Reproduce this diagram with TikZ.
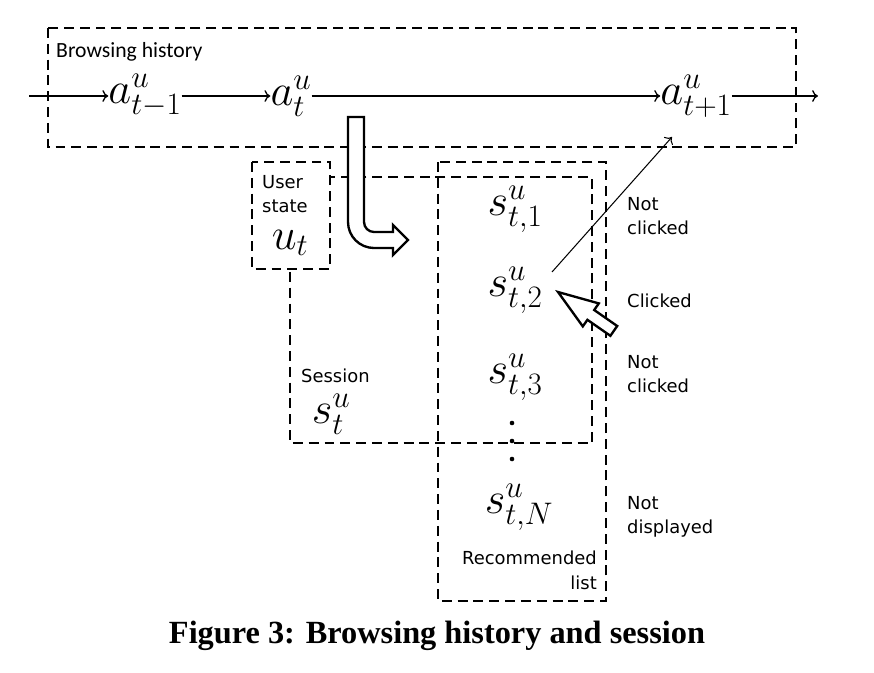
\RequirePackage{fix-cm}
\documentclass[tikz,border=0pt]{standalone}
\usepackage{fontspec}
\newfontfamily\lblfont{DejaVu Sans}
\newfontfamily\histfont{Carlito}
\newfontfamily\capfont{Liberation Serif}
\usetikzlibrary{arrows.meta}

\tikzset{
  dbox/.style={draw, line width=2.2pt, dash pattern=on 8.5pt off 5pt},
  mlbl/.style={inner sep=0pt, font=\fontsize{38}{44}\selectfont},
  tlbl/.style={inner sep=0pt, font=\lblfont\fontsize{15.3}{21}\selectfont, align=left},
  histlbl/.style={inner sep=0pt, font=\histfont\fontsize{18.5}{22}\selectfont},
  flow/.style={-{To[length=5pt,width=10pt]}, line width=1.1pt},
  hollow/.style={draw, line width=2pt, fill=white, line join=miter},
}

\begin{document}
\begin{tikzpicture}[x=0.03cm, y=-0.03cm]
        \useasboundingbox (0,0) rectangle (874,672);
        % boxes
        \draw[dbox] (48,28) rectangle (796,147);
        \draw[dbox] (290,177) rectangle (592,443);
        \draw[dbox] (438,162) rectangle (606,601);
        \draw[dbox, fill=white] (252,162) rectangle (330,269);
        % texts
        \node[histlbl, anchor=base west] (hist) at (56,57) {Browsing history};
        \node[tlbl, anchor=north west] (user) at (262,175) {User\\state};
        \node[tlbl, anchor=base west] (sess) at (301,382) {Session};
        \node[tlbl, anchor=north east, align=right] (rec) at (597,551) {Recommended\\list};
        \node[tlbl, anchor=north west] (nc1) at (627,197) {Not\\clicked};
        \node[tlbl, anchor=base west] (clk) at (627,307) {Clicked};
        \node[tlbl, anchor=north west] (nc2) at (627,355) {Not\\clicked};
        \node[tlbl, anchor=north west] (nd) at (627,496) {Not\\displayed};
        % actions and items
        \node[mlbl] (a1) at (145,96) {$a^u_{t-1}$};
        \node[mlbl] (a2) at (291,96) {$a^u_t$};
        \node[mlbl] (a3) at (696,96) {$a^u_{t+1}$};
        \node[mlbl] (ut) at (290,243) {$u_t$};
        \node[mlbl] (st) at (331,414) {$s^u_t$};
        \node[mlbl] (s1) at (515,209) {$s^u_{t,1}$};
        \node[mlbl] (s2) at (515,290) {$s^u_{t,2}$};
        \node[mlbl] (s3) at (515,377) {$s^u_{t,3}$};
        \node[mlbl] (sN) at (519,507) {$s^u_{t,N}$};
        \foreach \y in {423,441,459} \fill (512,\y) circle[radius=2.3];
        % history flow
        \coordinate (in) at (29,96);
        \coordinate (out) at (818,96);
        \draw[flow] (in) -- (a1);
        \draw[flow] (a1) -- (a2);
        \draw[flow] (a2) -- (a3);
        \draw[flow] (a3) -- (out);
        % clicked item becomes next action
        \coordinate (clk0) at (552,272);
        \coordinate (clk1) at (672,137);
        \draw[flow, line width=0.9pt] (clk0) -- (clk1);
        % hollow arrows
        \draw[hollow] (348,117) -- (348,222) arc[start angle=180, end angle=90, radius=26]
          -- (393,248) -- (393,255) -- (408,240) -- (393,225) -- (393,232) -- (374,232)
          arc[start angle=90, end angle=180, radius=10] -- (364,117) -- cycle;
        \draw[hollow] (558,292) -- (598.8,303.4) -- (594.2,310.0) -- (617.2,326.0)
          -- (610.4,335.8) -- (587.4,319.8) -- (582.8,326.4) -- cycle;
        % caption
        \node[font=\capfont\bfseries\fontsize{27.6}{32}\selectfont, inner sep=0pt, anchor=base] (cap) at (437,643) {Figure 3: Browsing history and session};
\end{tikzpicture}
\end{document}
